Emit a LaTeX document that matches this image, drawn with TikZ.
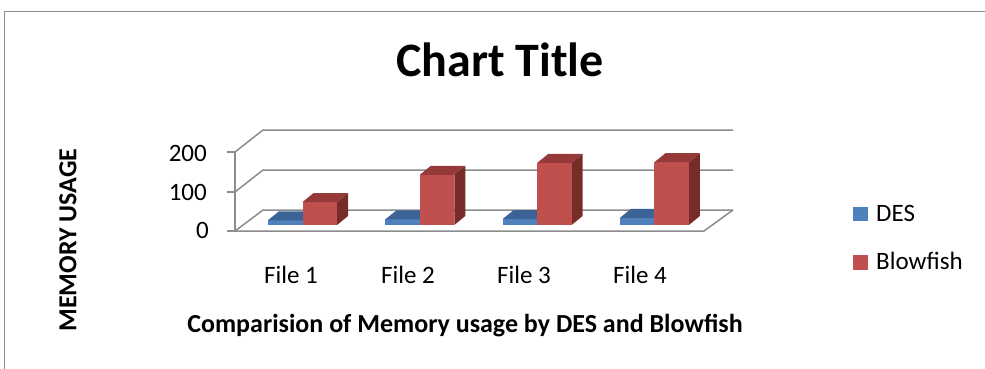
\documentclass[tikz,border=0pt]{standalone}
\usepackage{fontspec}
\setmainfont{Carlito}
\definecolor{desfront}{HTML}{4F81BD}
\definecolor{destop}{HTML}{3B6396}
\definecolor{desside}{HTML}{2C4D75}
\definecolor{bffront}{HTML}{C0504D}
\definecolor{bftop}{HTML}{953A38}
\definecolor{bfside}{HTML}{772C2A}
\definecolor{gridgray}{HTML}{8C8C8C}
% one 3-D column: left x, value, front / top / side colours
\newcommand{\cubebar}[5]{%
  \pgfmathsetmacro\bartop{225-0.395*#2}%
  \fill[#5] (#1+34.5,225) -- (#1+34.5,\bartop) -- ++(11,-9) -- (#1+45.5,216) -- cycle;
  \fill[#3] (#1,225) rectangle (#1+34.5,\bartop);
  \fill[#4] (#1,\bartop) -- ++(11,-9) -- ++(34.5,0) -- (#1+34.5,\bartop) -- cycle;
}
\begin{document}
\begin{tikzpicture}[x=1pt,y=-1pt,
  gridline/.style={draw=gridgray,line width=1.5pt},
  ticklabel/.style={font=\fontsize{25}{25}\selectfont,inner sep=0pt},
  legendtext/.style={font=\fontsize{25}{25}\selectfont,inner sep=0pt,anchor=base west}]
\useasboundingbox (0,0) rectangle (985,369);
% chart area border
\draw[gridgray,line width=1.5pt] (4.5,369) -- (4.5,11.5) -- (985,11.5);
% back wall gridlines and left wall
\foreach \yb/\yf in {130/152,170/192,210/231}{
  \draw[gridline] (235,\yf) -- (263,\yb) -- (733,\yb);
  \draw[gridline] (227,\yf) -- (235,\yf);
}
\draw[gridline] (235,152) -- (235,231);
% floor
\draw[gridline] (235,231) -- (704,231) -- (733,210);
% columns
\foreach \i/\d/\b in {0/12/58,1/14/127,2/15/157,3/18/159}{
  \pgfmathsetmacro\xl{268+117.3*\i}
  \cubebar{\xl}{\d}{desfront}{destop}{desside}
  \cubebar{\xl+34.5}{\b}{bffront}{bftop}{bfside}
}
% value axis labels
\node[ticklabel,anchor=base east] (t200) at (207,161) {200};
\node[ticklabel,anchor=base east] (t100) at (207,200) {100};
\node[ticklabel,anchor=base east] (t0) at (209,238) {0};
% category labels
\node[ticklabel,anchor=base] (f1) at (291,283) {File 1};
\node[ticklabel,anchor=base] (f2) at (408,283) {File 2};
\node[ticklabel,anchor=base] (f3) at (524,283) {File 3};
\node[ticklabel,anchor=base] (f4) at (640,283) {File 4};
% titles
\node[font=\fontsize{48}{48}\selectfont\bfseries,anchor=base,inner sep=0pt] (title) at (500,77) {Chart Title};
\node[font=\fontsize{26}{26}\selectfont\bfseries,anchor=base,inner sep=0pt] (xtitle) at (465,332) {Comparision of Memory usage by DES and Blowfish};
\node[font=\fontsize{26}{26}\selectfont\bfseries,rotate=90,inner sep=0pt] (ytitle) at (68,240) {MEMORY USAGE};
% legend
\fill[desfront] (853,207) rectangle (868,221);
\fill[bffront] (853,255) rectangle (868,270);
\node[legendtext] (ldes) at (876,221) {DES};
\node[legendtext] (lbf) at (876,269) {Blowfish};
\end{tikzpicture}
\end{document}
